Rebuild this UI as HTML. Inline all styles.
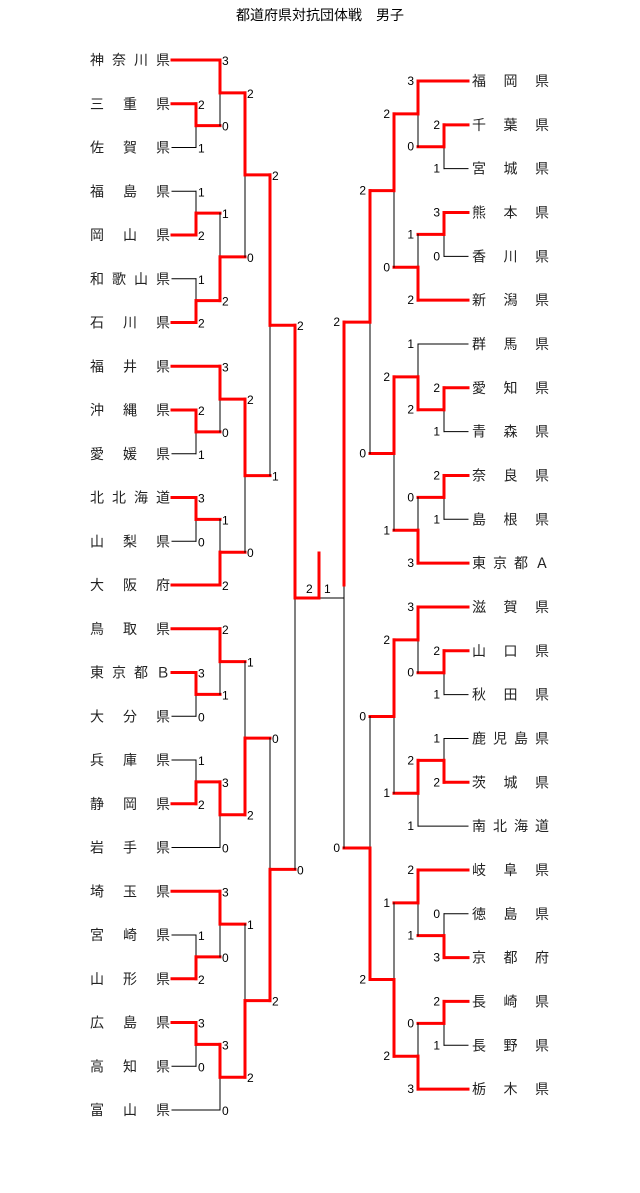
<!DOCTYPE html>
<html><head><meta charset="utf-8"><style>
html,body{margin:0;padding:0;background:#fff;}
svg{display:block;font-family:"Liberation Sans","Noto Sans CJK JP",sans-serif;}
</style></head><body>
<svg id="s" width="640" height="1193" xmlns="http://www.w3.org/2000/svg">
<text x="320" y="20" font-size="14" text-anchor="middle" fill="#000">都道府県対抗団体戦　男子</text>
</svg>
<script>
const S=document.getElementById('s');const NS='http://www.w3.org/2000/svg';
function el(t,a,txt){const e=document.createElementNS(NS,t);for(const k in a)e.setAttribute(k,a[k]);if(txt!=null)e.textContent=txt;S.appendChild(e);return e;}
function line(x1,y1,x2,y2,red){el('line',{x1,y1,x2,y2,stroke:red?'#f00':'#000','stroke-width':red?3:1,'stroke-linecap':'square'});}
function score(x,y,s,side){if(side=='L')el('text',{x:x+2,y:y+5,'font-size':12},s);else el('text',{x:x-4,y:y+4,'font-size':12,'text-anchor':'end'},s);}
function name(n,y,side){const c=[...n];const x0=side=='L'?90:472,span=side=='L'?66:63;c.forEach((ch,i)=>{el('text',{x:x0+i*span/(c.length-1),y:y+5,'font-size':14,fill:'#222'},ch);});}
const LX=[196,220,245,270,295],RX=[444,418,394,370,344];
function L(n,r){return{leaf:1,n,y:60+43.75*r};}
function R(n,r){return{leaf:1,n,y:81+43.83*r};}
function M(x,a,b,sa,sb,w){return{x,a,b,sa,sb,w};}
function draw(m,side){
  [m.a,m.b].forEach(c=>{if(!c.leaf)draw(c,side);});
  m.y=(m.a.y+m.b.y)/2;
  const leafX=side=='L'?172:468;
  [['a',m.a,m.sa],['b',m.b,m.sb]].forEach(([k,c,s])=>{
    const sx=c.leaf?leafX:c.x;
    const red=c.leaf?(m.w==k):true;
    if(c.leaf)name(c.n,c.y,side);
    line(sx,c.y,m.x,c.y,red);
    score(m.x,c.y,s,side);
  });
  const wy=m.w=='a'?m.a.y:m.b.y, ly=m.w=='a'?m.b.y:m.a.y;
  line(m.x,ly,m.x,m.y,false);
  line(m.x,wy,m.x,m.y,true);
}
const x=LX;
const left=M(x[4],
 M(x[3],
  M(x[2],
   M(x[1],L('神奈川県',0),M(x[0],L('三重県',1),L('佐賀県',2),'2','1','a'),'3','0','a'),
   M(x[1],M(x[0],L('福島県',3),L('岡山県',4),'1','2','b'),M(x[0],L('和歌山県',5),L('石川県',6),'1','2','b'),'1','2','b'),
   '2','0','a'),
  M(x[2],
   M(x[1],L('福井県',7),M(x[0],L('沖縄県',8),L('愛媛県',9),'2','1','a'),'3','0','a'),
   M(x[1],M(x[0],L('北北海道',10),L('山梨県',11),'3','0','a'),L('大阪府',12),'1','2','b'),
   '2','0','a'),
  '2','1','a'),
 M(x[3],
  M(x[2],
   M(x[1],L('鳥取県',13),M(x[0],L('東京都Ｂ',14),L('大分県',15),'3','0','a'),'2','1','a'),
   M(x[1],M(x[0],L('兵庫県',16),L('静岡県',17),'1','2','b'),L('岩手県',18),'3','0','a'),
   '1','2','b'),
  M(x[2],
   M(x[1],L('埼玉県',19),M(x[0],L('宮崎県',20),L('山形県',21),'1','2','b'),'3','0','a'),
   M(x[1],M(x[0],L('広島県',22),L('高知県',23),'3','0','a'),L('富山県',24),'3','0','a'),
   '1','2','b'),
  '0','2','b'),
 '2','0','a');
const y=RX;
const right=M(y[4],
 M(y[3],
  M(y[2],
   M(y[1],R('福岡県',0),M(y[0],R('千葉県',1),R('宮城県',2),'2','1','a'),'3','0','a'),
   M(y[1],M(y[0],R('熊本県',3),R('香川県',4),'3','0','a'),R('新潟県',5),'1','2','b'),
   '2','0','a'),
  M(y[2],
   M(y[1],R('群馬県',6),M(y[0],R('愛知県',7),R('青森県',8),'2','1','a'),'1','2','b'),
   M(y[1],M(y[0],R('奈良県',9),R('島根県',10),'2','1','a'),R('東京都Ａ',11),'0','3','b'),
   '2','1','a'),
  '2','0','a'),
 M(y[3],
  M(y[2],
   M(y[1],R('滋賀県',12),M(y[0],R('山口県',13),R('秋田県',14),'2','1','a'),'3','0','a'),
   M(y[1],M(y[0],R('鹿児島県',15),R('茨城県',16),'1','2','b'),R('南北海道',17),'2','1','a'),
   '2','1','a'),
  M(y[2],
   M(y[1],R('岐阜県',18),M(y[0],R('徳島県',19),R('京都府',20),'0','3','b'),'2','1','a'),
   M(y[1],M(y[0],R('長崎県',21),R('長野県',22),'2','1','a'),R('栃木県',23),'0','3','b'),
   '1','2','b'),
  '0','2','b'),
 '2','0','a');
draw(left,'L');draw(right,'R');
line(344,598,319,598,false);
line(295,598,319,598,true);
line(319,553,319,598,true);
el('text',{x:306,y:593,'font-size':12},'2');
el('text',{x:324,y:593,'font-size':12},'1');
</script>
</body></html>
